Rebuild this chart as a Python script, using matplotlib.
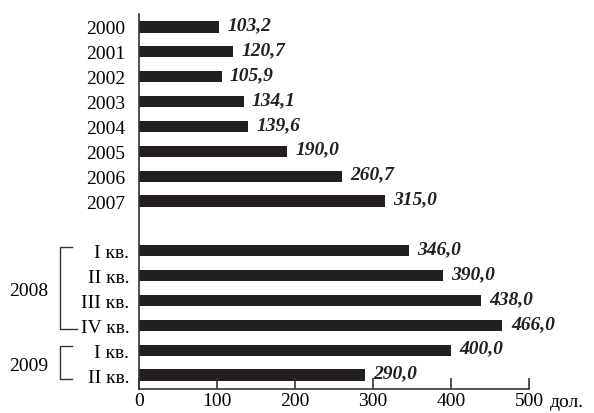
import matplotlib.pyplot as plt
from matplotlib.transforms import blended_transform_factory, ScaledTranslation
from matplotlib.lines import Line2D

plt.rcParams['font.family'] = ['Liberation Serif', 'DejaVu Serif']

# data
labels = ['2000', '2001', '2002', '2003', '2004', '2005', '2006', '2007',
          'I кв.', 'II кв.', 'III кв.', 'IV кв.', 'I кв.', 'II кв.']
values = [103.2, 120.7, 105.9, 134.1, 139.6, 190.0, 260.7, 315.0,
          346.0, 390.0, 438.0, 466.0, 400.0, 290.0]
value_text = ['103,2', '120,7', '105,9', '134,1', '139,6', '190,0', '260,7', '315,0',
              '346,0', '390,0', '438,0', '466,0', '400,0', '290,0']
# slot of each bar (one empty slot between 2007 and 2008)
slots = [0, 1, 2, 3, 4, 5, 6, 7, 9, 10, 11, 12, 13, 14]
groups = [('2008', 9, 12), ('2009', 13, 14)]
xticks = [0, 100, 200, 300, 400, 500]
bar_color = '#231f20'
fs = 14

fig = plt.figure(figsize=(5.94, 4.14), dpi=100)
ax = fig.add_axes([139/594, 1-390/414, 390/594, 375/414])

ax.barh(slots, values, height=0.45, color=bar_color)
for s, v, t in zip(slots, values, value_text):
    ax.annotate(t, (v, s), xytext=(6, 1.5), textcoords='offset points',
                ha='left', va='center', fontsize=fs,
                fontweight='bold', fontstyle='italic', color=bar_color)

ax.set_xlim(0, 500)
ax.set_ylim(14.56, -0.52)
ax.set_yticks(slots)
ax.set_yticklabels(labels, fontsize=fs)
ax.tick_params(axis='y', length=0, pad=7)
# year labels sit a little further from the axis
for lab in ax.get_yticklabels()[:8]:
    lab.set_transform(lab.get_transform() + ScaledTranslation(-4/100, 0, fig.dpi_scale_trans))
ax.set_xticks(xticks)
ax.set_xticklabels([str(x) for x in xticks], fontsize=fs)
ax.tick_params(axis='x', direction='in', length=8, width=1.2, pad=2, color='#333333')

for side in ['top', 'right']:
    ax.spines[side].set_visible(False)
for side in ['left', 'bottom']:
    ax.spines[side].set_color('#333333')
    ax.spines[side].set_linewidth(1.2)

ax.text(1.053, -0.012, 'дол.', transform=ax.transAxes, ha='left', va='top', fontsize=fs)

# brackets for 2008 and 2009
tr = blended_transform_factory(ax.transAxes, ax.transData)
x_line = (60 - 139) / 390
x_end = (72 - 139) / 390
for name, s0, s1 in groups:
    y0 = s0 - 0.15
    y1 = s1 + 0.15
    xe_bottom = (77 - 139) / 390 if name == '2008' else x_end
    ax.add_line(Line2D([x_end, x_line, x_line, xe_bottom], [y0, y0, y1, y1],
                       transform=tr, clip_on=False, color='#333333', lw=1))
    ax.text((29 - 139) / 390, (s0 + s1) / 2 + 0.1, name, transform=tr,
            ha='center', va='center', fontsize=fs)

fig.savefig('out.png', dpi=100)
